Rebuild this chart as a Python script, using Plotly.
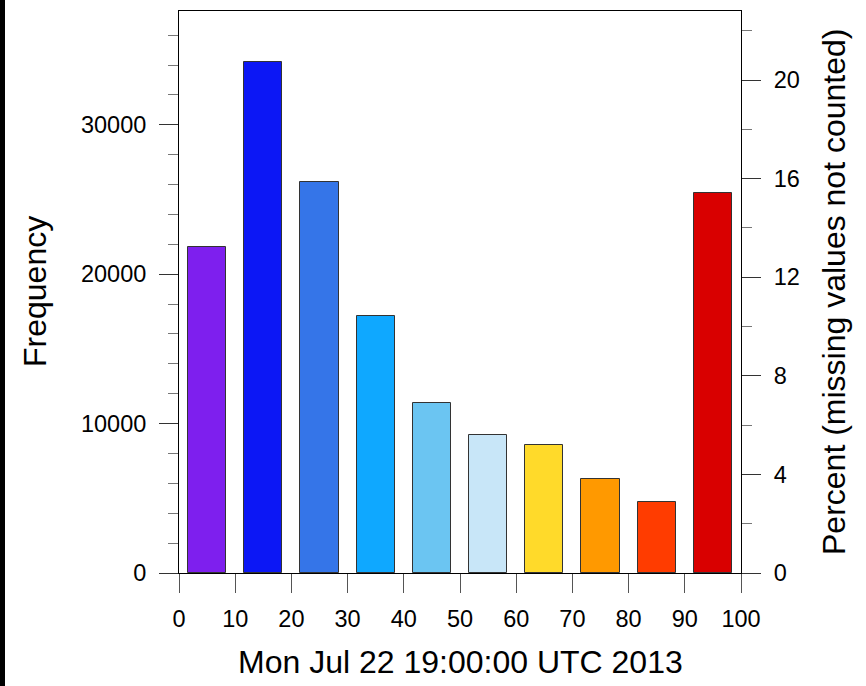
import plotly.graph_objects as go

bin_centers = [5, 15, 25, 35, 45, 55, 65, 75, 85, 95]
frequency = [21806, 34201, 26174, 17191, 11371, 9231, 8562, 6288, 4749, 25418]
bar_colors = ["#7e1fee", "#0c17f5", "#3575e8", "#0fa8ff", "#6bc5f2",
              "#c8e6f8", "#ffda2a", "#ff9900", "#ff3c00", "#d90000"]
x_ticks = [0, 10, 20, 30, 40, 50, 60, 70, 80, 90, 100]
y_ticks = [0, 10000, 20000, 30000]
pct_ticks = [0, 4, 8, 12, 16, 20]
x_title = "Mon Jul 22 19:00:00 UTC 2013"
y_title = "Frequency"
y2_title = "Percent (missing values not counted)"

total = sum(frequency)
percent = [f / total * 100 for f in frequency]
ymax = max(frequency) * 1.1
pmax = ymax / total * 100

FONT = "Liberation Sans, Arial, Helvetica, sans-serif"
L, R, T, B = 179, 125, 11, 113
W, H = 866, 686
pw, ph = W - L - R, H - T - B

fig = go.Figure()
fig.add_trace(go.Bar(x=bin_centers, y=frequency, width=6.8,
                     marker=dict(color=bar_colors, line=dict(color="#333333", width=1)),
                     showlegend=False, hoverinfo="x+y"))
fig.add_trace(go.Scatter(x=bin_centers, y=percent, yaxis="y2", mode="none",
                         showlegend=False, hoverinfo="skip"))

tickfont = dict(family=FONT, size=23.5, color="black")
fig.update_layout(
    width=W, height=H,
    margin=dict(l=L, r=R, t=T, b=B, pad=0),
    paper_bgcolor="white", plot_bgcolor="white",
    xaxis=dict(range=[0, 100], tickvals=x_ticks, ticktext=[str(v) for v in x_ticks],
               ticks="outside", ticklen=19,
               tickwidth=1, tickcolor="#555", showline=True, linecolor="black",
               linewidth=1, mirror=True, showgrid=False, zeroline=False,
               tickfont=tickfont, ticklabelstandoff=6),
    yaxis=dict(range=[0, ymax], tickvals=y_ticks, ticktext=[str(v) for v in y_ticks],
               ticks="outside", ticklen=19,
               tickwidth=1, tickcolor="#333", showline=True, linecolor="black",
               linewidth=1, showgrid=False, zeroline=False, tickfont=tickfont,
               minor=dict(dtick=2000, ticks="outside", ticklen=10, tickcolor="#777",
                          showgrid=False),
               ticklabelstandoff=8),
    yaxis2=dict(range=[0, pmax], tickvals=pct_ticks, ticktext=[str(v) for v in pct_ticks],
                ticks="outside", ticklen=19,
                tickwidth=1, tickcolor="#333", showline=True, linecolor="black",
                linewidth=1, showgrid=False, zeroline=False, tickfont=tickfont,
                overlaying="y", side="right",
                minor=dict(dtick=2, ticks="outside", ticklen=10, tickcolor="#777",
                           showgrid=False),
                ticklabelstandoff=8),
    bargap=0,
)

titlefont = dict(family=FONT, size=32, color="black")
fig.add_annotation(text=y_title, xref="paper", yref="paper",
                   x=(35 - L) / pw, y=0.5, textangle=-90, showarrow=False,
                   font=titlefont, xanchor="center", yanchor="middle")
fig.add_annotation(text=y2_title, xref="paper", yref="paper",
                   x=(834 - L) / pw, y=0.5, textangle=-90, showarrow=False,
                   font=titlefont, xanchor="center", yanchor="middle")
fig.add_annotation(text=x_title, xref="paper", yref="paper",
                   x=0.5, y=-(662 - (T + ph)) / ph, showarrow=False,
                   font=titlefont, xanchor="center", yanchor="middle")
# dark strip at the left edge of the image
fig.add_shape(type="rect", xref="paper", yref="paper",
              x0=-L / pw, x1=(5 - L) / pw, y0=-B / ph, y1=1 + T / ph,
              fillcolor="black", line=dict(width=0), layer="above")

fig.write_html("out.html", config={"displayModeBar": False},
               post_script="document.body.style.margin='0';document.body.style.overflow='hidden';")
